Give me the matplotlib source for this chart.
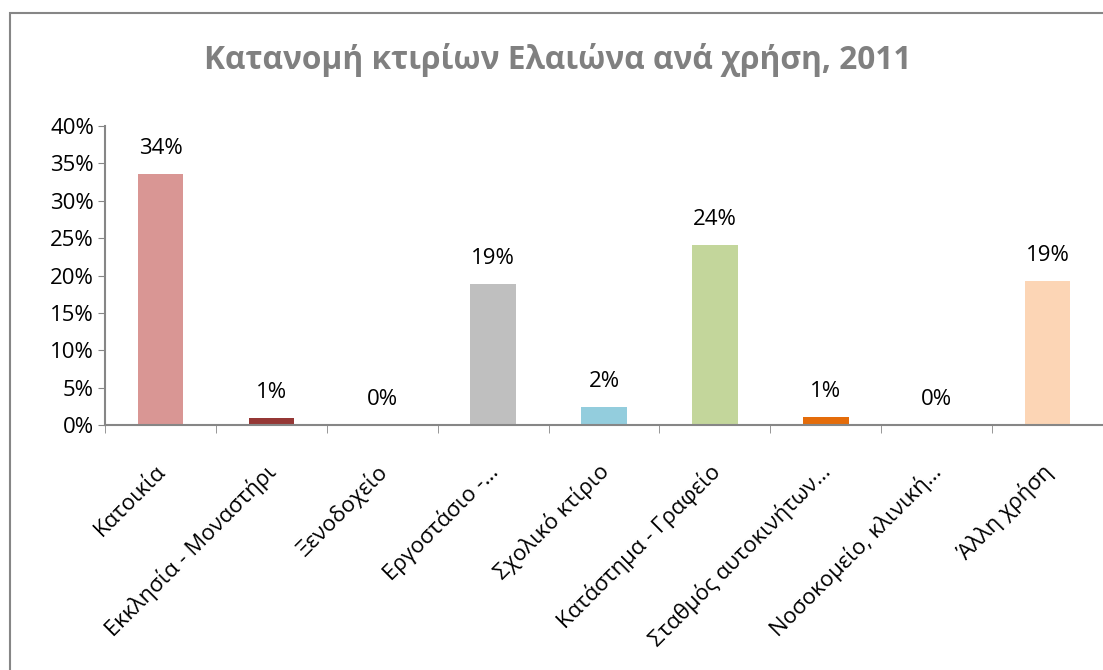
import matplotlib
matplotlib.use("Agg")
import matplotlib.pyplot as plt
from matplotlib.patches import Rectangle
import numpy as np

plt.rcParams['font.family'] = ['Open Sans', 'DejaVu Sans']

categories = ["Κατοικία", "Εκκλησία - Μοναστήρι", "Ξενοδοχείο", "Εργοστάσιο -…",
              "Σχολικό κτίριο", "Κατάστημα - Γραφείο", "Σταθμός αυτοκινήτων…",
              "Νοσοκομείο, κλινική…", "Άλλη χρήση"]
values = [33.6, 0.9, 0.05, 18.9, 2.4, 24.1, 1.1, 0.05, 19.3]
labels = ["34%", "1%", "0%", "19%", "2%", "24%", "1%", "0%", "19%"]
colors = ["#D99694", "#953735", "#FFFFFF", "#BFBFBF", "#93CDDD",
          "#C3D69B", "#E46C0A", "#FFFFFF", "#FCD5B5"]
yticks = [0, 5, 10, 15, 20, 25, 30, 35, 40]

fig = plt.figure(figsize=(11.03, 6.70), dpi=100)
fig.patches.append(Rectangle((10 / 1103, -0.1), 1.2, (670 - 13) / 670 + 0.1,
                             transform=fig.transFigure, fill=False,
                             ec="#868686", lw=1.5))

ax = fig.add_axes([105 / 1103, 1 - 425 / 670, 998 / 1103, 299 / 670])
x = np.arange(len(categories))
ax.bar(x, values, width=0.41, color=colors)
for xi, v, lab in zip(x, values, labels):
    ax.text(xi, v + 2.0, lab, ha="center", va="bottom", fontsize=16)

ax.set_xlim(-0.5, len(categories) - 0.5)
ax.set_ylim(0, 40)
ax.set_yticks(yticks)
ax.set_yticklabels([f"{t}%" for t in yticks], fontsize=16)
ax.set_xticks(x)
ax.set_xticklabels(categories, rotation=45, ha="right", va="center_baseline",
                   rotation_mode="anchor", fontsize=16)
ax.tick_params(axis="x", length=0, pad=30)
ax.set_xticks(np.arange(len(categories) + 1) - 0.5, minor=True)
ax.tick_params(axis="x", which="minor", length=6, color="#868686", direction="out")
ax.tick_params(axis="y", length=5, color="#868686", direction="out", pad=3)

for s in ["top", "right"]:
    ax.spines[s].set_visible(False)
for s in ["left", "bottom"]:
    ax.spines[s].set_color("#868686")
    ax.spines[s].set_linewidth(1.5)

fig.text(0.506, 1 - 60 / 670, "Κατανομή κτιρίων Ελαιώνα ανά χρήση, 2011",
         ha="center", va="center", fontsize=22.8, fontweight="bold", color="#808080")

fig.savefig("out.png", dpi=100)
